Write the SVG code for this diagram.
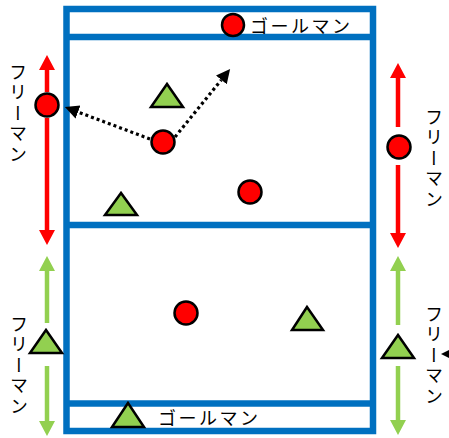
<svg xmlns="http://www.w3.org/2000/svg" width="449" height="438" viewBox="0 0 449 438">
<style>
.field{fill:none;stroke:#0070C0;stroke-width:6.5}
.red{fill:#FF0000;stroke:#000;stroke-width:2.5}
.grn{fill:#92D050;stroke:#000;stroke-width:2.5;stroke-linejoin:miter}
.ra{stroke:#FF0000;stroke-width:4.5;fill:none}
.ga{stroke:#92D050;stroke-width:4.5;fill:none}
.dot{stroke:#000;stroke-width:3.2;stroke-dasharray:3 3;fill:none}
.t{font-family:"Noto Sans CJK JP","Noto Sans",sans-serif;font-size:18px;letter-spacing:2.5px;fill:#000}
.v{writing-mode:vertical-rl}
</style>
<defs>
<marker id="mr" markerUnits="userSpaceOnUse" markerWidth="16" markerHeight="16" refX="0" refY="8" orient="auto"><path d="M0,0 L15,8 L0,16 z" fill="#FF0000"/></marker>
<marker id="mg" markerUnits="userSpaceOnUse" markerWidth="16" markerHeight="16" refX="0" refY="8" orient="auto"><path d="M0,0 L15,8 L0,16 z" fill="#92D050"/></marker>
<marker id="mk" markerUnits="userSpaceOnUse" markerWidth="15" markerHeight="15" refX="0" refY="7" orient="auto"><path d="M0,0 L14,7 L0,14 z" fill="#000"/></marker>
</defs>
<rect width="449" height="438" fill="#fff"/>
<g id="field">
<rect class="field" x="66.5" y="9" width="306.5" height="422"/>
<line class="field" x1="66.5" y1="37" x2="373" y2="37"/>
<line class="field" x1="66.5" y1="225" x2="373" y2="225"/>
<line class="field" x1="66.5" y1="403.5" x2="373" y2="403.5"/>
</g>
<g id="connectors">
<line class="ra" x1="47" y1="92" x2="47" y2="70" marker-end="url(#mr)"/>
<line class="ra" x1="47" y1="118" x2="47" y2="230" marker-end="url(#mr)"/>
<line class="ra" x1="398" y1="127" x2="398" y2="78" marker-end="url(#mr)"/>
<line class="ra" x1="398" y1="165" x2="398" y2="233" marker-end="url(#mr)"/>
<line class="ga" x1="47" y1="323" x2="47" y2="271" marker-end="url(#mg)"/>
<line class="ga" x1="47" y1="366" x2="47" y2="421" marker-end="url(#mg)"/>
<line class="ga" x1="398" y1="325" x2="398" y2="271" marker-end="url(#mg)"/>
<line class="ga" x1="398" y1="366" x2="398" y2="420" marker-end="url(#mg)"/>
<line class="dot" x1="150" y1="139" x2="78" y2="112" marker-end="url(#mk)"/>
<line class="dot" x1="175" y1="137" x2="221.3" y2="79.9" marker-end="url(#mk)"/>
<path d="M441,354 L449,350 L449,358 z" fill="#000"/>
</g>
<g id="goalman-top">
<circle class="red" cx="233" cy="25" r="11"/>
<text class="t" x="250" y="33">ゴールマン</text>
</g>
<g id="goalman-bottom">
<polygon class="grn" points="128,403 112,427 144,427"/>
<text class="t" x="158" y="425">ゴールマン</text>
</g>
<g id="freeman-left-red">
<circle class="red" cx="47" cy="105" r="11.5"/>
<text class="t v" x="18" y="63">フリーマン</text>
</g>
<g id="freeman-right-red">
<circle class="red" cx="399" cy="147" r="11.5"/>
<text class="t v" x="434" y="108">フリーマン</text>
</g>
<g id="freeman-left-green">
<polygon class="grn" points="46,330 30,353 62,353"/>
<text class="t v" x="19" y="315">フリーマン</text>
</g>
<g id="freeman-right-green">
<polygon class="grn" points="398,335 382,358 414,358"/>
<text class="t v" x="434" y="305">フリーマン</text>
</g>
<g id="player-center"><circle class="red" cx="163" cy="142" r="11.5"/></g>
<g id="tri-top"><polygon class="grn" points="167,84 151,107 183,107"/></g>
<g id="tri-mid"><polygon class="grn" points="121,193 105,215 137,215"/></g>
<g id="red-mid"><circle class="red" cx="250" cy="192" r="11.5"/></g>
<g id="red-low"><circle class="red" cx="186" cy="313" r="11.5"/></g>
<g id="tri-low"><polygon class="grn" points="307,307 292,330 323,330"/></g>
</svg>
